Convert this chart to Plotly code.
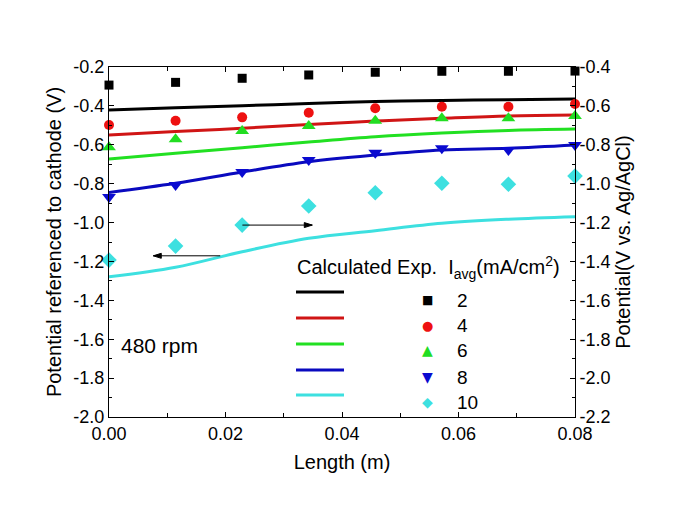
import plotly.graph_objects as go

# ---- data ----
length_m = [0.0, 0.01143, 0.02286, 0.03429, 0.04571, 0.05714, 0.06857, 0.08]
currents = ["2", "4", "6", "8", "10"]

# calculated (left axis, referenced to cathode)
calc_2 = [-0.421, -0.410, -0.399, -0.388, -0.378, -0.372, -0.368, -0.365]
calc_4 = [-0.550, -0.532, -0.515, -0.496, -0.478, -0.464, -0.452, -0.447]
calc_6 = [-0.673, -0.644, -0.615, -0.586, -0.559, -0.540, -0.526, -0.519]
calc_8 = [-0.845, -0.798, -0.740, -0.687, -0.653, -0.627, -0.618, -0.601]
calc_10 = [-1.279, -1.230, -1.150, -1.081, -1.042, -1.004, -0.983, -0.970]

# experimental (right axis, V vs Ag/AgCl)
exp_2 = [-0.493, -0.479, -0.458, -0.441, -0.427, -0.422, -0.422, -0.421]
exp_4 = [-0.698, -0.676, -0.659, -0.635, -0.612, -0.604, -0.604, -0.590]
exp_6 = [-0.813, -0.772, -0.729, -0.703, -0.676, -0.664, -0.664, -0.652]
exp_8 = [-1.069, -1.007, -0.940, -0.878, -0.841, -0.818, -0.827, -0.801]
exp_10 = [-1.393, -1.321, -1.213, -1.115, -1.047, -0.998, -1.003, -0.961]

# tick labels
x_tickvals = [0.0, 0.02, 0.04, 0.06, 0.08]
x_ticktext = ["0.00", "0.02", "0.04", "0.06", "0.08"]
y1_tickvals = [-2.0, -1.8, -1.6, -1.4, -1.2, -1.0, -0.8, -0.6, -0.4, -0.2]
y1_ticktext = ["-2.0", "-1.8", "-1.6", "-1.4", "-1.2", "-1.0", "-0.8", "-0.6", "-0.4", "-0.2"]
y2_tickvals = [-2.2, -2.0, -1.8, -1.6, -1.4, -1.2, -1.0, -0.8, -0.6, -0.4]
y2_ticktext = ["-2.2", "-2.0", "-1.8", "-1.6", "-1.4", "-1.2", "-1.0", "-0.8", "-0.6", "-0.4"]

calc_series = [calc_2, calc_4, calc_6, calc_8, calc_10]
exp_series = [exp_2, exp_4, exp_6, exp_8, exp_10]

line_colors = ["#000000", "#d01515", "#22e022", "#0a0abf", "#3de0e0"]
marker_colors = ["#000000", "#ee1111", "#22dd22", "#0a0ad0", "#3de0e0"]
marker_symbols = ["square", "circle", "triangle-up", "triangle-down", "diamond"]
marker_sizes = [9, 10, 12, 12, 12]
legend_glyphs = ["\u25A0", "\u25CF", "\u25B2", "\u25BC", "\u25C6"]
glyph_sizes = [12, 13, 14, 14, 14]

FONT = "Liberation Sans, Arial, sans-serif"

fig = go.Figure()
for ys, c in zip(calc_series, line_colors):
    fig.add_trace(go.Scatter(x=length_m, y=ys, mode="lines", line=dict(color=c, width=3, shape="spline"),
                             showlegend=False, yaxis="y"))
for ys, c, s, sz in zip(exp_series, marker_colors, marker_symbols, marker_sizes):
    fig.add_trace(go.Scatter(x=length_m, y=ys, mode="markers",
                             marker=dict(color=c, symbol=s, size=sz, line=dict(width=0)),
                             showlegend=False, yaxis="y2", cliponaxis=False))

# target plot area in window pixels (page has 8px body margin)
OFF = 8
L, R, T, B = 109, 575, 67, 417
W, H = 672, 502
X_PER_PX = 0.08 / (R - L)
Y_PER_PX = 1.8 / (B - T)


def px(xp):
    return (xp - L) / (R - L)


def py(yp):
    return (B - yp) / (B - T)


shapes = []
annotations = []
line_y = [292, 318, 344, 370, 395]
mark_y = [300, 325, 350, 377, 402]
for i in range(5):
    shapes.append(dict(type="line", xref="paper", yref="paper", x0=px(296), x1=px(344),
                       y0=py(line_y[i]), y1=py(line_y[i]), line=dict(color=line_colors[i], width=3)))
    annotations.append(dict(xref="paper", yref="paper", x=px(427), y=py(mark_y[i]), text=legend_glyphs[i],
                            showarrow=False, font=dict(size=glyph_sizes[i], color=marker_colors[i],
                                                       family="DejaVu Sans"),
                            xanchor="center", yanchor="middle"))
    annotations.append(dict(xref="paper", yref="paper", x=px(455), y=py(mark_y[i]), text=currents[i],
                            showarrow=False, font=dict(size=19, color="black", family=FONT),
                            xanchor="left", yanchor="middle"))

annotations.append(dict(xref="paper", yref="paper", x=px(295), y=py(267),
                        text="Calculated Exp.  I<sub>avg</sub>(mA/cm<sup>2</sup>)",
                        showarrow=False, font=dict(size=20, color="black", family=FONT),
                        xanchor="left", yanchor="middle"))
annotations.append(dict(xref="paper", yref="paper", x=px(119), y=py(345), text="480 rpm",
                        showarrow=False, font=dict(size=21, color="black", family=FONT),
                        xanchor="left", yanchor="middle"))


# arrows indicating which axis each data set belongs to (line + small solid head)
def add_arrow(x_from, x_to, y):
    shapes.append(dict(type="line", xref="x", yref="y", x0=x_from, x1=x_to, y0=y, y1=y,
                       line=dict(color="black", width=1)))
    d = 1 if x_to > x_from else -1
    hl, hw = 8 * X_PER_PX, 2.5 * Y_PER_PX
    shapes.append(dict(type="path", xref="x", yref="y",
                       path=f"M {x_to} {y} L {x_to - d * hl} {y + hw} L {x_to - d * hl} {y - hw} Z",
                       fillcolor="black", line=dict(color="black", width=1)))


add_arrow(0.0229, 0.0349, -1.013)
add_arrow(0.0191, 0.0076, -1.171)

axis_common = dict(showgrid=False, zeroline=False, showline=True, linecolor="black", linewidth=1,
                   ticks="inside", ticklen=5, tickcolor="black",
                   tickfont=dict(size=18, family=FONT, color="black"))

fig.update_layout(
    width=W, height=H,
    margin=dict(l=L - OFF, r=W + OFF - R, t=T - OFF, b=H + OFF - B),
    plot_bgcolor="white", paper_bgcolor="white",
    font=dict(family=FONT, color="black"),
    xaxis=dict(range=[0, 0.08], tickmode="array", tickvals=x_tickvals, ticktext=x_ticktext, mirror="ticks",
               minor=dict(ticks="inside", dtick=0.01, ticklen=4, tickcolor="black"),
               title=dict(text="Length (m)", font=dict(size=20, family=FONT), standoff=12),
               **axis_common),
    yaxis=dict(range=[-2.0, -0.2], tickmode="array", tickvals=y1_tickvals, ticktext=y1_ticktext,
               minor=dict(ticks="inside", dtick=0.1, ticklen=3, tickcolor="black"),
               title=dict(text="Potential referenced to cathode (V)", font=dict(size=20, family=FONT),
                          standoff=6),
               **axis_common),
    yaxis2=dict(range=[-2.2, -0.4], tickmode="array", tickvals=y2_tickvals, ticktext=y2_ticktext,
                overlaying="y", side="right",
                minor=dict(ticks="inside", dtick=0.1, ticklen=3, tickcolor="black"),
                title=dict(text="Potential(V vs. Ag/AgCl)", font=dict(size=20, family=FONT), standoff=6),
                **axis_common),
    shapes=shapes,
    annotations=annotations,
)

fig.write_html("out.html")
